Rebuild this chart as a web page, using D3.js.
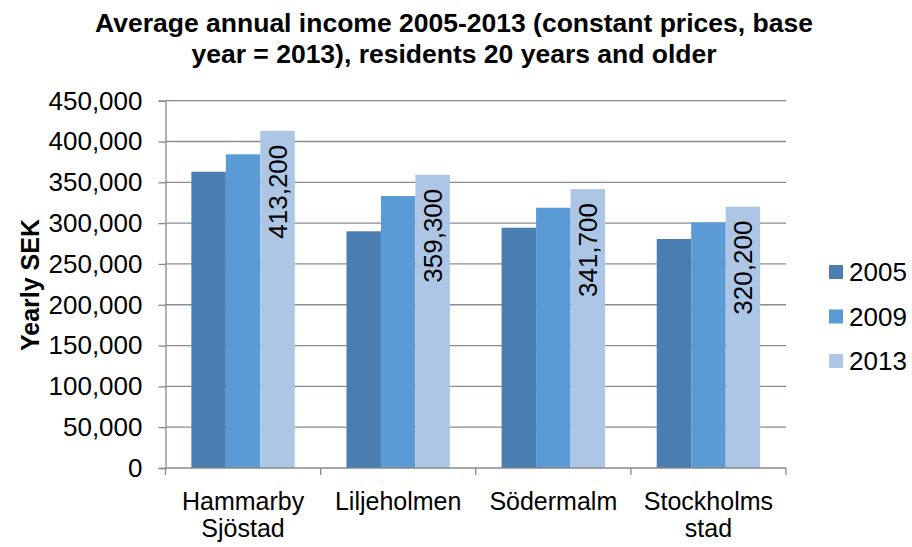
<!DOCTYPE html>
<html>
<head>
<meta charset="utf-8">
<script src="https://cdn.jsdelivr.net/npm/d3@7"></script>
<style>
  html, body { margin: 0; padding: 0; background: #fff; }
  svg { display: block; font-family: Arial, "Liberation Sans", sans-serif; }
</style>
</head>
<body>
<svg id="chart" width="912" height="547"></svg>
<script>
// Average annual income per district (SEK, constant 2013 prices)
const districts = [["Hammarby", "Sjöstad"], ["Liljeholmen"], ["Södermalm"], ["Stockholms", "stad"]];
const years = ["2005", "2009", "2013"];
const income2005 = [363000, 290000, 294400, 280600];
const income2009 = [384300, 333200, 318900, 301000];
const income2013 = [413200, 359300, 341700, 320200];
const yTicks = [0, 50000, 100000, 150000, 200000, 250000, 300000, 350000, 400000, 450000];
const colors = ["#4A7EB0", "#5B9BD5", "#ADC6E6"];

const series = [income2005, income2009, income2013];

const svg = d3.select("#chart");
const plot = { left: 165.5, right: 786, top: 100.7, bottom: 468 };

const keys = districts.map(d => d.join(" "));
const x = d3.scaleBand().domain(keys).range([plot.left, plot.right])
  .paddingInner(1 / 3).paddingOuter(1 / 6);
const xi = d3.scaleBand().domain(years).range([0, x.bandwidth()]);
const y = d3.scaleLinear().domain([0, 450000]).range([plot.bottom, plot.top]);

const fmt = d3.format(",");

// Horizontal gridlines
svg.append("g")
  .selectAll("line")
  .data(yTicks.filter(t => t > 0))
  .join("line")
  .attr("x1", plot.left).attr("x2", plot.right)
  .attr("y1", d => y(d)).attr("y2", d => y(d))
  .attr("stroke", "#868D99").attr("stroke-width", 1.3);

// Bars
const groups = svg.append("g")
  .selectAll("g")
  .data(keys)
  .join("g")
  .attr("transform", d => `translate(${x(d)},0)`);

groups.selectAll("rect")
  .data((d, i) => years.map((yr, j) => ({ yr, j, v: series[j][i] })))
  .join("rect")
  .attr("x", d => xi(d.yr))
  .attr("width", xi.bandwidth())
  .attr("y", d => y(d.v))
  .attr("height", d => y(0) - y(d.v))
  .attr("fill", d => colors[d.j]);

// Value labels on the 2013 bars, rotated inside the bar end
groups.append("text")
  .attr("transform", (d, i) => {
    const cx = xi("2013") + xi.bandwidth() / 2;
    return `translate(${cx},${y(income2013[i]) + 14}) rotate(-90)`;
  })
  .attr("text-anchor", "end")
  .attr("dominant-baseline", "central")
  .attr("font-size", 26)
  .attr("fill", "#000")
  .text((d, i) => fmt(income2013[i]));

// Y axis
const yAxis = svg.append("g")
  .attr("transform", `translate(${plot.left},0)`)
  .call(d3.axisLeft(y).tickValues(yTicks).tickFormat(fmt).tickSize(7).tickPadding(16));
yAxis.select(".domain").attr("stroke", "#888").attr("stroke-width", 1.3);
yAxis.selectAll(".tick line").attr("stroke", "#888").attr("stroke-width", 1.3);
yAxis.selectAll(".tick text")
  .attr("font-size", 26).attr("fill", "#000")
  .attr("font-family", "Arial, 'Liberation Sans', sans-serif");

// X axis baseline with boundary ticks between categories
svg.append("line")
  .attr("x1", plot.left).attr("x2", plot.right)
  .attr("y1", plot.bottom).attr("y2", plot.bottom)
  .attr("stroke", "#888").attr("stroke-width", 1.3);
const boundaries = keys.map(k => x(k) - x.step() * x.paddingInner() / 2).concat([plot.right]);
svg.append("g").selectAll("line")
  .data(boundaries)
  .join("line")
  .attr("x1", d => d).attr("x2", d => d)
  .attr("y1", plot.bottom).attr("y2", plot.bottom + 7)
  .attr("stroke", "#888").attr("stroke-width", 1.3);

// Category labels (may wrap onto two lines)
const catLabels = svg.append("g").selectAll("text")
  .data(districts)
  .join("text")
  .attr("x", (d, i) => x(keys[i]) + x.bandwidth() / 2)
  .attr("y", 509.5)
  .attr("text-anchor", "middle")
  .attr("font-size", 25)
  .attr("fill", "#000");
catLabels.selectAll("tspan")
  .data(d => d)
  .join("tspan")
  .attr("x", function () { return d3.select(this.parentNode).attr("x"); })
  .attr("dy", (d, i) => i === 0 ? 0 : 27)
  .text(d => d);

// Y axis title
svg.append("text")
  .attr("transform", "translate(39,285) rotate(-90)")
  .attr("text-anchor", "middle")
  .attr("font-size", 25)
  .attr("font-weight", "bold")
  .attr("fill", "#000")
  .text("Yearly SEK");

// Chart title
const title = svg.append("text")
  .attr("x", 454)
  .attr("text-anchor", "middle")
  .attr("font-size", 26.5)
  .attr("font-weight", "bold")
  .attr("fill", "#000");
title.append("tspan").attr("x", 454).attr("y", 32)
  .text("Average annual income 2005-2013 (constant prices, base");
title.append("tspan").attr("x", 454).attr("y", 63)
  .text("year = 2013), residents 20 years and older");

// Legend
const legend = svg.append("g").selectAll("g")
  .data(years)
  .join("g")
  .attr("transform", (d, i) => `translate(829,${272 + i * 44.5})`);
legend.append("rect")
  .attr("x", 0).attr("y", -7).attr("width", 14).attr("height", 14)
  .attr("fill", (d, i) => colors[i]);
legend.append("text")
  .attr("x", 20).attr("y", 0)
  .attr("dominant-baseline", "central")
  .attr("font-size", 26)
  .attr("fill", "#000")
  .text(d => d);
</script>
</body>
</html>
